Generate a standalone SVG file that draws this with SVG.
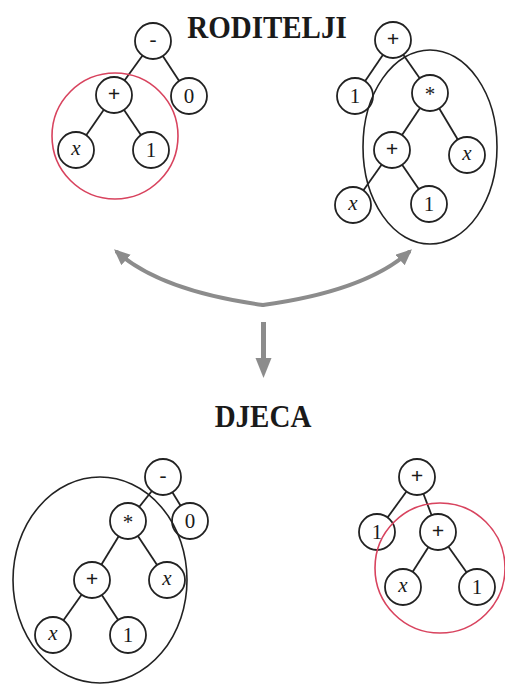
<svg xmlns="http://www.w3.org/2000/svg" width="505" height="685" viewBox="0 0 505 685">
<style>
.n circle{fill:#fff;stroke:#222;stroke-width:1.8}
.n text{font-family:"Liberation Serif","Times New Roman",serif;font-size:21px;fill:#1a1a1a;text-anchor:middle}
.n text.v{font-style:italic}
.n text.op{font-weight:bold;font-size:22px}
.e line{stroke:#222;stroke-width:1.8}
.red{fill:none;stroke:#d8435e;stroke-width:1.6}
.ell{fill:none;stroke:#222;stroke-width:1.6}
.arr{fill:none;stroke:#8c8c8c;stroke-width:4;stroke-linecap:round}
.title{font-family:"Liberation Serif","Times New Roman",serif;font-weight:bold;font-size:29px;fill:#1a1a1a;text-anchor:middle}
</style>
<defs>
<marker id="ah" markerUnits="userSpaceOnUse" markerWidth="18" markerHeight="16" refX="12" refY="7" orient="auto">
<path d="M0,0 L16,7 L0,14 z" fill="#8c8c8c"/>
</marker>
</defs>
<rect width="505" height="685" fill="#fff"/>

<text class="title" transform="translate(267,38) scale(1,1.1)">RODITELJI</text>
<text class="title" transform="translate(263,427) scale(1,1.1)">DJECA</text>

<g id="connectors">
<g class="e">
<line x1="153" y1="41" x2="114" y2="95"/>
<line x1="153" y1="41" x2="189" y2="96"/>
<line x1="114" y1="95" x2="76" y2="150"/>
<line x1="114" y1="95" x2="151" y2="150"/>
<line x1="393" y1="40" x2="355" y2="96"/>
<line x1="393" y1="40" x2="430" y2="93"/>
<line x1="430" y1="93" x2="392" y2="150"/>
<line x1="430" y1="93" x2="467" y2="155"/>
<line x1="392" y1="150" x2="353" y2="205"/>
<line x1="392" y1="150" x2="429" y2="204"/>
<line x1="163" y1="477" x2="128" y2="521"/>
<line x1="163" y1="477" x2="190" y2="521"/>
<line x1="128" y1="521" x2="92" y2="580"/>
<line x1="128" y1="521" x2="167" y2="580"/>
<line x1="92" y1="580" x2="53" y2="635"/>
<line x1="92" y1="580" x2="128" y2="635"/>
<line x1="417" y1="477" x2="377" y2="532"/>
<line x1="417" y1="477" x2="438" y2="532"/>
<line x1="438" y1="532" x2="403" y2="587"/>
<line x1="438" y1="532" x2="477" y2="587"/>
</g>
<path class="arr" d="M263,305 C212,298 152,283 117,252" marker-end="url(#ah)"/>
<path class="arr" d="M263,305 C314,298 374,283 409,252" marker-end="url(#ah)"/>
<line x1="263.5" y1="322" x2="263.5" y2="360" stroke="#8c8c8c" stroke-width="5"/>
<polygon points="255.5,358 271.5,358 263.5,378" fill="#8c8c8c"/>
</g>

<g id="p1_minus" class="n"><circle cx="153" cy="41" r="18"/><text x="153" y="46">-</text></g>
<g id="p1_plus" class="n"><circle cx="114" cy="95" r="18"/><text class="op" x="114" y="101">+</text></g>
<g id="p1_zero" class="n"><circle cx="189" cy="96" r="18"/><text x="189" y="103">0</text></g>
<g id="p1_x" class="n"><circle cx="76" cy="150" r="18"/><text class="v" x="76" y="155">x</text></g>
<g id="p1_one" class="n"><circle cx="151" cy="150" r="18"/><text x="151" y="157">1</text></g>
<circle id="p1_sel" class="red" cx="115" cy="136" r="63"/>

<g id="p2_plus" class="n"><circle cx="393" cy="40" r="18"/><text class="op" x="393" y="46">+</text></g>
<g id="p2_one" class="n"><circle cx="355" cy="96" r="18"/><text x="355" y="103">1</text></g>
<g id="p2_mul" class="n"><circle cx="430" cy="93" r="18"/><text x="430" y="101">*</text></g>
<g id="p2_plus2" class="n"><circle cx="392" cy="150" r="18"/><text class="op" x="392" y="156">+</text></g>
<g id="p2_x" class="n"><circle cx="467" cy="155" r="18"/><text class="v" x="467" y="160">x</text></g>
<g id="p2_x2" class="n"><circle cx="353" cy="205" r="18"/><text class="v" x="353" y="210">x</text></g>
<g id="p2_one2" class="n"><circle cx="429" cy="204" r="18"/><text x="429" y="211">1</text></g>
<ellipse id="p2_sel" class="ell" cx="430" cy="147" rx="67" ry="97"/>

<g id="c1_minus" class="n"><circle cx="163" cy="477" r="18"/><text x="163" y="482">-</text></g>
<g id="c1_zero" class="n"><circle cx="190" cy="521" r="18"/><text x="190" y="528">0</text></g>
<g id="c1_mul" class="n"><circle cx="128" cy="521" r="18"/><text x="128" y="529">*</text></g>
<g id="c1_plus" class="n"><circle cx="92" cy="580" r="18"/><text class="op" x="92" y="586">+</text></g>
<g id="c1_x" class="n"><circle cx="167" cy="580" r="18"/><text class="v" x="167" y="585">x</text></g>
<g id="c1_x2" class="n"><circle cx="53" cy="635" r="18"/><text class="v" x="53" y="640">x</text></g>
<g id="c1_one" class="n"><circle cx="128" cy="635" r="18"/><text x="128" y="642">1</text></g>
<ellipse id="c1_sel" class="ell" cx="100" cy="580" rx="87" ry="103"/>

<g id="c2_plus" class="n"><circle cx="417" cy="477" r="18"/><text class="op" x="417" y="483">+</text></g>
<g id="c2_one" class="n"><circle cx="377" cy="532" r="18"/><text x="377" y="539">1</text></g>
<g id="c2_plus2" class="n"><circle cx="438" cy="532" r="18"/><text class="op" x="438" y="538">+</text></g>
<g id="c2_x" class="n"><circle cx="403" cy="587" r="18"/><text class="v" x="403" y="592">x</text></g>
<g id="c2_one2" class="n"><circle cx="477" cy="587" r="18"/><text x="477" y="594">1</text></g>
<circle id="c2_sel" class="red" cx="440" cy="568" r="65"/>
</svg>
